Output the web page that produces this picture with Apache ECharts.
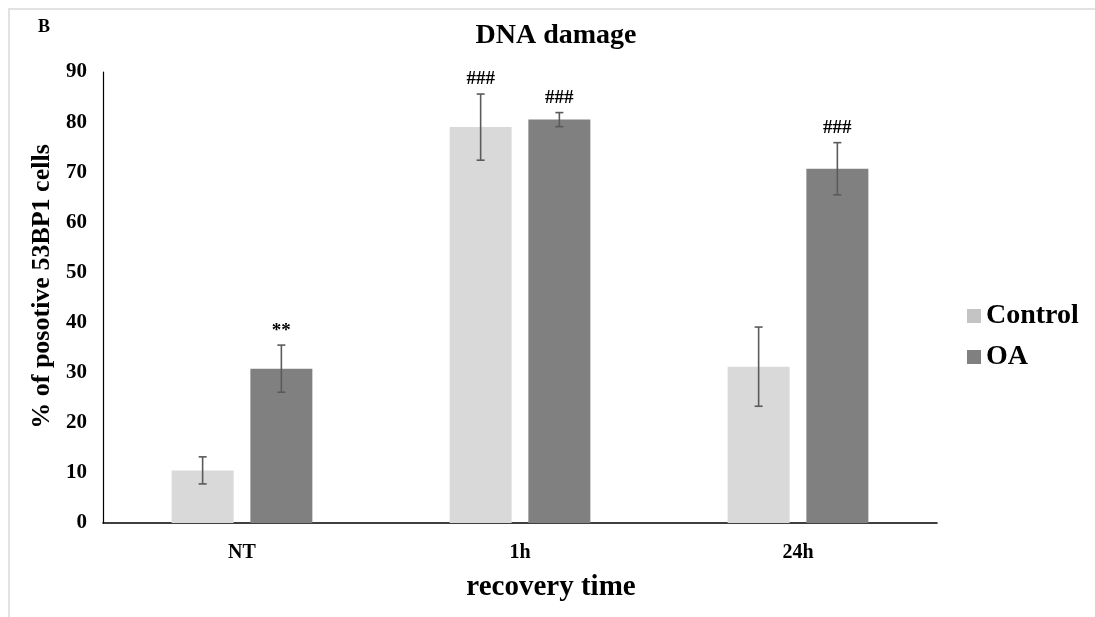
<!DOCTYPE html>
<html>
<head>
    <meta charset="utf-8">
    <title>DNA damage</title>
    <script src="https://cdn.jsdelivr.net/npm/echarts@6/dist/echarts.min.js"></script>
    <style>
        body { margin: 0; background: #fff; }
    </style>
</head>
<body>
    <div id="main" style="width: 1095px;height:617px;"></div>

    <script type="text/javascript">
        // data
        var categories = ['NT', '1h', '24h'];
        var controlValues = [10.5, 79.0, 31.2];
        var controlErrors = [2.7, 6.6, 7.9];
        var controlMarks = ['', '###', ''];
        var oaValues = [30.8, 80.5, 70.7];
        var oaErrors = [4.7, 1.4, 5.2];
        var oaMarks = ['**', '###', '###'];
        var yTicks = [0, 10, 20, 30, 40, 50, 60, 70, 80, 90];

        var font = 'Liberation Serif';
        var barWidthFrac = 0.223;
        var barGapFrac = 0.27;
        // centre of each bar relative to the category centre, as a part of the band
        var shift = (barWidthFrac + barWidthFrac * barGapFrac) / 2;

        function errorSeries(values, errors, marks, side) {
            var data = [];
            for (var i = 0; i < values.length; i++) {
                data.push([i, values[i], errors[i]]);
            }
            return {
                type: 'custom',
                z: 5,
                data: data,
                renderItem: function (params, api) {
                    var idx = api.value(0);
                    var v = api.value(1);
                    var e = api.value(2);
                    var band = api.size([1, 0])[0];
                    var hi = api.coord([idx, v + e]);
                    var lo = api.coord([idx, v - e]);
                    var x = hi[0] + side * shift * band;
                    var cap = 4;
                    var st = { stroke: '#5a5a5a', lineWidth: 1.6 };
                    var kids = [
                        { type: 'line', shape: { x1: x, y1: hi[1], x2: x, y2: lo[1] }, style: st },
                        { type: 'line', shape: { x1: x - cap, y1: hi[1], x2: x + cap, y2: hi[1] }, style: st },
                        { type: 'line', shape: { x1: x - cap, y1: lo[1], x2: x + cap, y2: lo[1] }, style: st }
                    ];
                    var m = marks[params.dataIndex];
                    if (m) {
                        kids.push({
                            type: 'text',
                            style: {
                                x: x, y: hi[1] - 5, text: m,
                                align: 'center', verticalAlign: 'bottom',
                                font: 'bold 19px "' + font + '"', fill: '#000'
                            }
                        });
                    }
                    return { type: 'group', children: kids };
                }
            };
        }

        var myChart = echarts.init(document.getElementById('main'));

        var option = {
            animation: false,
            backgroundColor: '#fff',
            textStyle: { fontFamily: font },
            graphic: [
                {
                    type: 'polyline',
                    shape: { points: [[9, 617], [9, 9], [1095, 9]] },
                    style: { stroke: '#e2e2e2', lineWidth: 2, fill: null }
                },
                {
                    type: 'text', left: 38, top: 18,
                    style: { text: 'B', font: 'bold 18px "' + font + '"', fill: '#000' }
                }
            ],
            title: {
                text: 'DNA damage',
                left: 551, top: 17, textAlign: 'center',
                textStyle: { fontFamily: font, fontWeight: 'bold', fontSize: 28, color: '#000' }
            },
            legend: {
                orient: 'vertical',
                left: 962, top: 297,
                itemWidth: 14, itemHeight: 14, itemGap: 13,
                icon: 'rect',
                textStyle: { fontFamily: font, fontWeight: 'bold', fontSize: 28, color: '#000' },
                data: [
                    { name: 'Control', itemStyle: { color: '#c4c4c4' } },
                    { name: 'OA', itemStyle: { color: '#808080' } }
                ]
            },
            grid: { left: 103, right: 158, top: 72, bottom: 94 },
            xAxis: {
                type: 'category',
                data: categories,
                axisLine: { lineStyle: { color: '#000', width: 1.6 } },
                axisTick: { show: false },
                axisLabel: { margin: 20, fontFamily: font, fontWeight: 'bold', fontSize: 20, color: '#000' },
                name: 'recovery time',
                nameLocation: 'middle',
                nameGap: 50,
                nameTextStyle: {
                    fontFamily: font, fontWeight: 'bold', fontSize: 29, color: '#000',
                    padding: [0, 0, 0, 62]
                }
            },
            yAxis: {
                type: 'value',
                min: yTicks[0], max: yTicks[yTicks.length - 1], interval: 10,
                axisLine: { show: true, lineStyle: { color: '#000', width: 1.2 } },
                axisTick: { show: false },
                splitLine: { show: false },
                axisLabel: { margin: 16, fontFamily: font, fontWeight: 'bold', fontSize: 21, color: '#000' },
                name: '% of posotive 53BP1 cells',
                nameLocation: 'middle',
                nameGap: 42,
                nameTextStyle: {
                    fontFamily: font, fontWeight: 'bold', fontSize: 26, color: '#000',
                    padding: [0, 0, 0, 22]
                }
            },
            series: [
                {
                    name: 'Control', type: 'bar',
                    data: controlValues,
                    barWidth: (barWidthFrac * 100) + '%',
                    barGap: (barGapFrac * 100) + '%',
                    itemStyle: { color: '#d9d9d9' }
                },
                {
                    name: 'OA', type: 'bar',
                    data: oaValues,
                    barWidth: (barWidthFrac * 100) + '%',
                    barGap: (barGapFrac * 100) + '%',
                    itemStyle: { color: '#808080' }
                },
                errorSeries(controlValues, controlErrors, controlMarks, -1),
                errorSeries(oaValues, oaErrors, oaMarks, 1)
            ]
        };

        myChart.setOption(option);
    </script>
</body>
</html>
